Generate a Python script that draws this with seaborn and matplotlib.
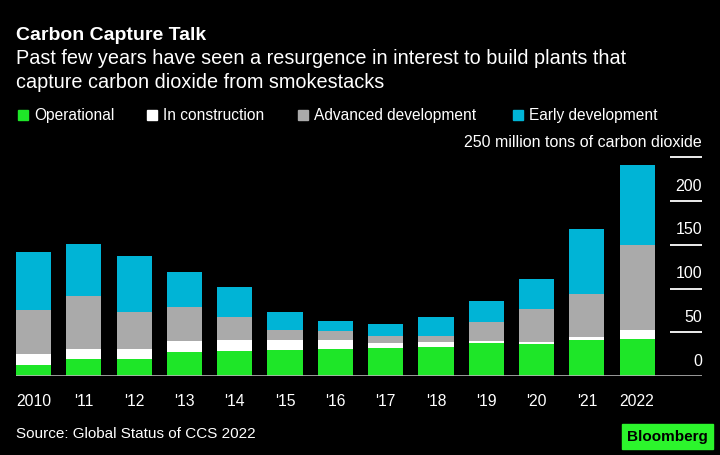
import numpy as np
import pandas as pd
import matplotlib.pyplot as plt
from matplotlib.patches import Rectangle
import seaborn as sns

# values (million tons of CO2 capacity)
years = ["2010", "'11", "'12", "'13", "'14", "'15", "'16", "'17", "'18", "'19", "'20", "'21", "2022"]
operational = [13, 20, 20, 27, 28.6, 29.7, 31, 32.4, 33, 37.7, 36.6, 41.5, 42.7]
in_construction = [12, 11, 11, 13, 13, 11.4, 10, 5.3, 6.4, 2.7, 2.3, 3, 9.5]
advanced_dev = [50, 61, 42, 38.5, 26.3, 11, 11, 8, 6.5, 21.3, 37.3, 49, 97.5]
early_dev = [67, 59, 64, 40, 34, 20.6, 11, 14, 22, 23.6, 35, 74, 92]

series_names = ["Operational", "In construction", "Advanced development", "Early development"]
series_colors = ["#1ee628", "#ffffff", "#aaaaaa", "#00b4d6"]
y_ticks = [0, 50, 100, 150, 200, 250]

df = pd.DataFrame({"year": years,
                   "Operational": operational,
                   "In construction": in_construction,
                   "Advanced development": advanced_dev,
                   "Early development": early_dev})
stack = df[series_names].cumsum(axis=1)

sns.set_style("dark", {"axes.facecolor": "black", "figure.facecolor": "black"})
plt.rcParams['font.family'] = ['Liberation Sans', 'DejaVu Sans']

W, H = 720, 455
fig = plt.figure(figsize=(7.2, 4.55), dpi=100, facecolor="black")
ax = fig.add_axes([16 / W, 1 - 376 / H, 686 / W, (376 - 157.3) / H])
ax.set_facecolor("black")

def fx(px):
    return px / W

def fy(py):
    return 1 - py / H

# stacked bars: draw cumulative totals from the top series down
for name, col in reversed(list(zip(series_names, series_colors))):
    sns.barplot(x=df["year"], y=stack[name], color=col, width=0.7,
                saturation=1, linewidth=0, ax=ax)

ax.set_xlim(-0.35, 13.29)
ax.set_ylim(0, 250)
for s in ax.spines.values():
    s.set_visible(False)
ax.grid(False)
ax.set_xlabel("")
ax.set_ylabel("")
ax.axhline(0, color="#b4b4b4", lw=1.2, zorder=5)

ax.set_yticks([])
ax.tick_params(axis="x", colors="#b4b4b4", length=5, width=1, pad=8,
               labelcolor="white", labelsize=11.3)

# y labels sitting above short tick lines on the right
ax.hlines([t for t in y_ticks if t > 0], 0.953, 1.0, transform=ax.get_yaxis_transform(),
          color="white", lw=1.3, clip_on=False)
for t in y_ticks:
    lab = "250 million tons of carbon dioxide" if t == 250 else str(t)
    ax.annotate(lab, xy=(1.0, t), xycoords=ax.get_yaxis_transform(),
                xytext=(0, 7.5), textcoords="offset points",
                ha="right", va="baseline", color="white", fontsize=11.5)

# title block
fig.text(fx(16), fy(40.5), "Carbon Capture Talk", color="white", fontsize=14,
         fontweight="bold", va="baseline")
fig.text(fx(16), fy(64), "Past few years have seen a resurgence in interest to build plants that",
         color="white", fontsize=14.3, va="baseline")
fig.text(fx(16), fy(88), "capture carbon dioxide from smokestacks",
         color="white", fontsize=14.3, va="baseline")

# legend
sq_x = [18, 147, 298, 513]
for name, col, x0 in zip(series_names, series_colors, sq_x):
    fig.patches.append(Rectangle((fx(x0), fy(120)), 10 / W, 10 / H, color=col,
                                 transform=fig.transFigure, figure=fig))
    fig.text(fx(x0 + 16), fy(120), name, color="white", fontsize=11.2, va="baseline")

# footer
fig.text(fx(16), fy(438), "Source: Global Status of CCS 2022", color="white",
         fontsize=11, va="baseline")
fig.patches.append(Rectangle((fx(622), fy(449)), 91 / W, 25 / H, color="#2cf52c",
                             transform=fig.transFigure, figure=fig))
fig.text(fx(667.5), fy(436.5), "Bloomberg", color="black", fontsize=11,
         fontweight="bold", ha="center", va="center")

fig.savefig("out.png", dpi=100, facecolor="black")
